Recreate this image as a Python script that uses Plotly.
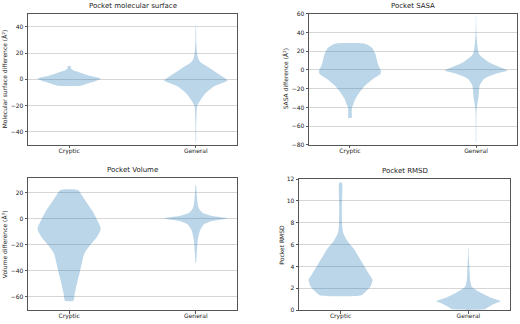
import plotly.graph_objects as go

# ---------------- data (violin profiles) ----------------
# each violin: y levels and relative half-width (1 = widest)
categories = ["Cryptic", "General"]
positions = [1, 2]

surf_cryptic_y = [-4.8, -4.0, -2.5, -1.0, 0.4, 1.5, 3.0, 4.5, 6.0, 7.0, 8.0, 9.0, 10.0]
surf_cryptic_w = [0.38, 0.50, 0.68, 0.86, 1.0, 0.88, 0.62, 0.42, 0.25, 0.12, 0.06, 0.05, 0.05]
surf_general_y = [-48, -35, -25, -20, -15.3, -10.3, -5.4, -0.9, 2, 4.6, 9.6, 12, 14.6, 18, 22, 30, 40]
surf_general_w = [0.004, 0.012, 0.025, 0.045, 0.16, 0.32, 0.57, 1.0, 0.85, 0.68, 0.37, 0.2, 0.1, 0.05, 0.03, 0.012, 0.004]

sasa_cryptic_y = [-51, -45, -40, -37.2, -30.2, -23.2, -16.3, -9.3, -4, -0.6, 5, 9.8, 16.8, 23.8, 26.5, 28.3]
sasa_cryptic_w = [0.055, 0.055, 0.065, 0.1, 0.18, 0.32, 0.49, 0.74, 0.97, 0.98, 0.9, 0.86, 0.81, 0.7, 0.58, 0.44]
sasa_general_y = [-78, -60, -45, -39, -28.5, -16.3, -9.3, -4, -0.6, 3.3, 8, 16.8, 27.3, 37.7, 50, 57]
sasa_general_w = [0.003, 0.008, 0.015, 0.03, 0.08, 0.12, 0.26, 0.63, 1.0, 0.74, 0.42, 0.1, 0.04, 0.015, 0.006, 0.003]

vol_cryptic_y = [-63, -56.8, -49.3, -41.8, -34.3, -26.8, -20.5, -14.3, -8, -1.8, 5.7, 13.2, 18, 22]
vol_cryptic_w = [0.13, 0.18, 0.25, 0.33, 0.40, 0.48, 0.66, 0.87, 1.0, 0.9, 0.74, 0.53, 0.4, 0.28]
vol_general_y = [-34, -26.8, -16.8, -9.3, -4.3, -1.8, 0.3, 2, 4.5, 8.3, 18.3, 25.8]
vol_general_w = [0.006, 0.03, 0.06, 0.13, 0.26, 0.52, 1.0, 0.52, 0.21, 0.085, 0.03, 0.006]

rmsd_cryptic_y = [1.38, 1.74, 2.18, 2.78, 3.37, 4.1, 4.87, 5.6, 6.36, 7.1, 7.85, 9.35, 11.67]
rmsd_cryptic_w = [0.65, 0.80, 0.94, 1.0, 0.88, 0.73, 0.57, 0.42, 0.21, 0.08, 0.05, 0.04, 0.04]
rmsd_general_y = [0.08, 0.24, 0.54, 0.84, 1.14, 1.58, 2.18, 2.8, 3.37, 4.2, 5.0, 5.7]
rmsd_general_w = [0.5, 0.6, 0.78, 1.0, 0.71, 0.4, 0.1, 0.05, 0.04, 0.025, 0.01, 0.004]

titles = ["Pocket molecular surface", "Pocket SASA", "Pocket Volume", "Pocket RMSD"]
ylabels = ["Molecular surface difference (Å<sup>2</sup>)", "SASA difference (Å<sup>2</sup>)",
           "Volume difference (Å<sup>3</sup>)", "Pocket RMSD"]
yranges = [[-50, 50], [-80, 60], [-70.3, 31.1], [0, 12]]
ytickvals = [[-40, -20, 0, 20, 40], [-80, -60, -40, -20, 0, 20, 40, 60],
             [-60, -40, -20, 0, 20], [0, 2, 4, 6, 8, 10, 12]]

panels = [
    [(surf_cryptic_y, surf_cryptic_w), (surf_general_y, surf_general_w)],
    [(sasa_cryptic_y, sasa_cryptic_w), (sasa_general_y, sasa_general_w)],
    [(vol_cryptic_y, vol_cryptic_w), (vol_general_y, vol_general_w)],
    [(rmsd_cryptic_y, rmsd_cryptic_w), (rmsd_general_y, rmsd_general_w)],
]

# ---------------- layout geometry ----------------
W, H = 520, 324
FONT = "DejaVu Sans"
boxes = [  # x0, x1, ytop, ybottom in px
    (28, 237, 10, 144),
    (309, 517, 10, 144),
    (28, 237, 178, 313),
    (299, 510, 179, 313),
]
ylabel_x = [5, 286, 5, 282]
HALF = 0.25
FILL = "rgba(31,119,180,0.3)"

fig = go.Figure()
layout = dict(
    width=W, height=H, margin=dict(l=0, r=0, t=0, b=0),
    paper_bgcolor="white", plot_bgcolor="white", showlegend=False,
    font=dict(family=FONT, size=6, color="#222"),
)
annotations = []

for i, (x0, x1, yt, yb) in enumerate(boxes):
    sfx = "" if i == 0 else str(i + 1)
    xa, ya = "x" + sfx, "y" + sfx
    for pos, (ys, ws) in zip(positions, panels[i]):
        right_x = [pos + HALF * w for w in ws]
        left_x = [pos - HALF * w for w in reversed(ws)]
        fig.add_trace(go.Scatter(
            x=right_x + left_x + [right_x[0]],
            y=list(ys) + list(reversed(ys)) + [ys[0]],
            mode="lines", fill="toself", fillcolor=FILL,
            line=dict(width=0, color=FILL, shape="spline", smoothing=0.6),
            hoverinfo="skip", xaxis=xa, yaxis=ya,
        ))
    layout["xaxis" + sfx] = dict(
        domain=[x0 / W, x1 / W], range=[0.675, 2.325], anchor=ya,
        tickvals=positions, ticktext=categories, showgrid=False, zeroline=False,
        showline=True, mirror=True, linecolor="#555", linewidth=1,
        ticks="outside", ticklen=2.5, tickwidth=0.6, tickcolor="#555",
        ticklabelstandoff=-3,
        tickfont=dict(family=FONT, size=6, color="#222"),
    )
    layout["yaxis" + sfx] = dict(
        domain=[1 - yb / H, 1 - yt / H], range=yranges[i], anchor=xa,
        tickvals=ytickvals[i], showgrid=True, gridcolor="#d6d6d6", gridwidth=1,
        zeroline=False, showline=True, mirror=True, linecolor="#555", linewidth=1,
        ticks="outside", ticklen=2.5, tickwidth=0.6, tickcolor="#555",
        tickfont=dict(family=FONT, size=6, color="#222"),
    )
    annotations.append(dict(
        text=titles[i], xref="paper", yref="paper", x=(x0 + x1) / 2 / W,
        y=1 - yt / H, xanchor="center", yanchor="bottom", yshift=2,
        showarrow=False, font=dict(family=FONT, size=7, color="#222"),
    ))
    annotations.append(dict(
        text=ylabels[i], xref="paper", yref="paper", x=ylabel_x[i] / W,
        y=1 - (yt + yb) / 2 / H, xanchor="center", yanchor="middle", textangle=-90,
        showarrow=False, font=dict(family=FONT, size=6, color="#222"),
    ))

layout["annotations"] = annotations
fig.update_layout(**layout)
fig.write_html("out.html", config={"displayModeBar": False},
               post_script="document.body.style.margin='0';")
